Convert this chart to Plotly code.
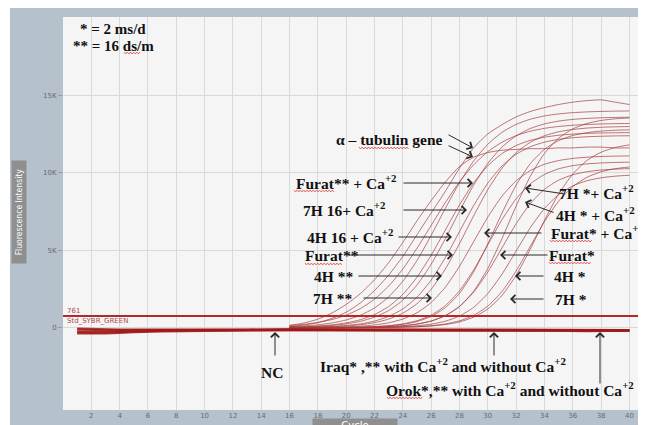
import plotly.graph_objects as go

# ---------------- data ----------------
CYCLES_AMP = list(range(16, 41))          # cycles for amplification curves
BASE_CYCLES = [1, 2, 3, 4, 5, 7, 10, 13, 16, 19, 22, 25, 28, 31, 34, 37, 40]
THRESHOLD = 761

ALPHA_TUBULIN_1 = [80, 170, 330, 600, 1000, 1600, 2400, 3400, 4600, 6000, 7400, 8800, 10300, 11600,
                   12500, 13100, 13600, 13950, 14200, 14400, 14550, 14650, 14700, 14550, 14400]
ALPHA_TUBULIN_2 = [150, 300, 550, 950, 1500, 2200, 3100, 4200, 5500, 6900, 8200, 9400, 10400, 11000,
                   11300, 11450, 11500, 11550, 11550, 11600, 11600, 11650, 11650, 11600, 11600]
FURAT_16_CA = [139, 217, 339, 526, 810, 1233, 1844, 2688, 3791, 5126, 6600, 8074, 9409, 10512,
               11356, 11967, 12390, 12675, 12861, 12983, 13061, 13112, 13144, 13164, 13177]
H7_16_CA = [70, 114, 187, 306, 498, 803, 1276, 1986, 2998, 4340, 5958, 7697, 9354, 10759,
            11837, 12603, 13118, 13451, 13663, 13793, 13874, 13923, 13953, 13972, 13983]
H4_16_CA = [38, 65, 109, 184, 309, 514, 846, 1368, 2154, 3260, 4679, 6300, 7921, 9340,
            10447, 11232, 11754, 12086, 12291, 12416, 12490, 12535, 12562, 12577, 12586]
FURAT_16 = [30, 51, 86, 146, 245, 409, 678, 1109, 1778, 2759, 4095, 5735, 7513, 9198,
            10601, 11653, 12378, 12851, 13147, 13328, 13438, 13504, 13543, 13566, 13580]
H4_16 = [16, 27, 48, 83, 144, 248, 427, 726, 1212, 1971, 3072, 4520, 6200, 7880,
         9328, 10429, 11188, 11674, 11973, 12152, 12256, 12318, 12352, 12373, 12384]
H7_16 = [12, 21, 36, 63, 108, 188, 324, 555, 936, 1550, 2481, 3787, 5426, 7219,
         8907, 10289, 11293, 11962, 12384, 12639, 12790, 12879, 12930, 12960, 12977]
FURAT_2_CA = [5, 10, 17, 31, 55, 99, 178, 316, 557, 963, 1623, 2616, 3964, 5550,
              7136, 8484, 9477, 10137, 10543, 10784, 10922, 11000, 11045, 11069, 11083]
FURAT_2 = [2, 3, 6, 11, 21, 39, 72, 133, 246, 450, 812, 1423, 2383, 3731,
           5350, 6969, 8317, 9277, 9888, 10250, 10454, 10567, 10628, 10661, 10680]
H7_2_CA = [1, 3, 5, 10, 18, 34, 63, 116, 216, 398, 726, 1292, 2218, 3602,
           5408, 7392, 9198, 10582, 11508, 12074, 12402, 12584, 12684, 12737, 12767]
H4_2 = [1, 2, 3, 6, 11, 20, 37, 69, 128, 237, 434, 782, 1370, 2294,
        3592, 5150, 6708, 8006, 8930, 9518, 9866, 10063, 10172, 10231, 10263]
H4_2_CA = [1, 2, 3, 6, 11, 19, 36, 67, 124, 230, 423, 771, 1372, 2357,
           3827, 5746, 7854, 9773, 11243, 12228, 12829, 13177, 13370, 13476, 13533]
H7_2 = [0, 1, 2, 3, 6, 10, 19, 36, 66, 123, 228, 417, 751, 1317,
        2205, 3452, 4950, 6448, 7695, 8583, 9149, 9483, 9672, 9777, 9834]
H7_2_B = [0, 0, 1, 1, 3, 6, 11, 20, 38, 70, 130, 242, 442, 797,
          1397, 2338, 3661, 5250, 6839, 8162, 9104, 9703, 10058, 10259, 10370]
H4_2_B = [0, 1, 1, 2, 3, 5, 10, 17, 32, 59, 109, 203, 373, 680,
          1211, 2080, 3377, 5070, 6930, 8623, 9920, 10789, 11320, 11627, 11797]

AMP_CURVES = [ALPHA_TUBULIN_1, ALPHA_TUBULIN_2, FURAT_16_CA, H7_16_CA, H4_16_CA, FURAT_16,
              H4_16, H7_16, FURAT_2_CA, FURAT_2, H7_2_CA, H4_2, H4_2_CA, H7_2, H7_2_B, H4_2_B]

NC = [-300, -330, -310, -280, -250, -200, -180, -150, -120, -140, -150, -160, -150, -140, -160, -150, -170]
IRAQ_1 = [-120, -150, -160, -150, -140, -130, -120, -110, -100, -120, -130, -120, -110, -130, -120, -140, -150]
IRAQ_2 = [-380, -400, -380, -350, -300, -250, -200, -180, -170, -180, -200, -190, -180, -200, -190, -210, -220]
OROK_1 = [-50, -80, -100, -110, -120, -130, -140, -130, -120, -130, -140, -150, -140, -150, -160, -170, -160]
OROK_2 = [-250, -260, -240, -230, -210, -190, -170, -160, -150, -170, -180, -170, -160, -180, -200, -230, -200]
BASELINES = [NC, IRAQ_1, IRAQ_2, OROK_1, OROK_2]

X_TICKS = list(range(2, 41, 2))
Y_TICKS = [0, 5000, 10000, 15000]
Y_TICK_TEXT = ["0", "5K", "10K", "15K"]

# ---------------- figure ----------------
OFF = 8                      # page body margin in the browser
W, H = 646 - OFF, 425 - OFF
ML, MR, MT, MB = 63 - OFF, 0, 17 - OFF, 15
PW, PH = W - ML - MR, H - MT - MB


def px(x, y):
    """position on the photographed page (pixels) -> paper coords"""
    return (x - OFF - ML) / PW, (H - MB - (y - OFF)) / PH


fig = go.Figure()

CURVE_COLOR = "rgba(165,60,60,0.7)"
for vals in AMP_CURVES:
    fig.add_trace(go.Scatter(x=CYCLES_AMP, y=vals, mode="lines",
                             line=dict(color=CURVE_COLOR, width=1, shape="spline", smoothing=0.6),
                             hoverinfo="skip", showlegend=False))

for vals in BASELINES:
    fig.add_trace(go.Scatter(x=BASE_CYCLES, y=vals, mode="lines",
                             line=dict(color="rgba(160,25,25,0.85)", width=2),
                             hoverinfo="skip", showlegend=False))

shapes = [
    # thin white strip at the left of the grey frame
    dict(type="rect", xref="paper", yref="paper", x0=px(0, 0)[0], x1=px(10, 0)[0],
         y0=px(0, 440)[1], y1=px(0, 0)[1], fillcolor="white", line_width=0, layer="below"),
    # threshold line
    dict(type="line", xref="paper", yref="y", x0=0, x1=1, y0=THRESHOLD, y1=THRESHOLD,
         line=dict(color="#b02a2a", width=2)),
]


def squiggle(x0, x1, y):
    """red wavy spell-check underline (page pixels)"""
    pts = []
    x, up = x0, True
    while x <= x1:
        fx, fy = px(x, y - 1 if up else y + 1)
        pts.append("%s%.5f,%.5f" % ("M" if not pts else "L", fx, fy))
        x += 1.6
        up = not up
    shapes.append(dict(type="path", xref="paper", yref="paper", path=" ".join(pts),
                       line=dict(color="#e04848", width=0.8)))


for sx0, sx1, sy in ((124, 140, 53), (359, 409, 148), (294, 335, 191), (305, 343, 264),
                     (550, 593, 241), (549, 592, 263), (387, 423, 398)):
    squiggle(sx0, sx1, sy)

LABEL_FONT = dict(family="Liberation Serif, Times New Roman, serif", size=15.5, color="#111")
annotations = []


def label(text, x, y, size=15.5):
    fx, fy = px(x, y)
    f = dict(LABEL_FONT)
    f["size"] = size
    annotations.append(dict(xref="paper", yref="paper", x=fx, y=fy, text="<b>" + text + "</b>",
                            showarrow=False, font=f, xanchor="center", yanchor="middle"))


def arrow(x0, y0, x1, y1):
    """arrow from tail (x0,y0) to tip (x1,y1), page pixels"""
    fx, fy = px(x1, y1)
    annotations.append(dict(xref="paper", yref="paper", x=fx, y=fy, text="",
                            ax=x0 - x1, ay=y0 - y1, axref="pixel", ayref="pixel",
                            showarrow=True, arrowhead=4, arrowsize=1.6, arrowwidth=1,
                            arrowcolor="#2a2a2a"))


label("* = 2 ms/d", 113, 29, 15)
label("** = 16 ds/m", 113, 46, 15)

label("α – tubulin gene", 389, 139)
arrow(447, 134, 473, 148)
arrow(447, 145, 473, 157)
label("Furat** + Ca<sup>+2</sup>", 346, 182)
arrow(402, 183, 473, 183)
label("7H 16+ Ca<sup>+2</sup>", 344, 209)
arrow(402, 210, 467, 210)
label("4H 16 + Ca<sup>+2</sup>", 350, 236)
arrow(397, 237, 452, 237)
label("Furat**", 332, 255)
arrow(347, 255, 453, 255)
label("4H **", 333, 276)
arrow(357, 276, 442, 276)
label("7H **", 332, 298)
arrow(362, 298, 432, 298)

label("7H *+ Ca<sup>+2</sup>", 596, 192)
arrow(565, 194, 525, 188)
label("4H * + Ca<sup>+2</sup>", 595, 214)
arrow(555, 213, 525, 202)
label("Furat* + Ca<sup>+2</sup>", 597, 232)
arrow(543, 233, 484, 233)
label("Furat*", 572, 255)
arrow(549, 255, 500, 255)
label("4H *", 570, 276)
arrow(545, 276, 515, 276)
label("7H *", 571, 299)
arrow(545, 299, 510, 299)

label("NC", 272, 372)
arrow(275, 357, 275, 332)
label("Iraq* ,** with Ca<sup>+2</sup> and without Ca<sup>+2</sup>", 443, 365)
arrow(494, 357, 494, 332)
label("Orok*,** with Ca<sup>+2</sup> and without Ca<sup>+2</sup>", 510, 389)
arrow(600, 385, 600, 332)

# threshold labels
for txt, yy in (("761", 311), ("Std_SYBR_GREEN", 321)):
    fx, fy = px(65, yy)
    annotations.append(dict(xref="paper", yref="paper", x=fx, y=fy, text=txt, showarrow=False,
                            xanchor="left", yanchor="middle",
                            font=dict(family="DejaVu Sans", size=7, color="#b04a4a")))

# axis title boxes
fx, fy = px(355, 417.5)
annotations.append(dict(xref="paper", yref="paper", x=fx, y=fy, text="Cycle", showarrow=False,
                        xanchor="center", yanchor="top", width=84, height=12, borderpad=0,
                        bgcolor="#8f8f8f", font=dict(family="DejaVu Sans", size=10, color="white")))
fx, fy = px(19, 212)
annotations.append(dict(xref="paper", yref="paper", x=fx, y=fy, text="Fluorescence Intensity",
                        showarrow=False, textangle=-90, xanchor="center", yanchor="middle",
                        width=100, height=12, bgcolor="#8f8f8f",
                        font=dict(family="DejaVu Sans Condensed, DejaVu Sans", size=8.5, color="white")))

fig.update_layout(
    width=W, height=H,
    margin=dict(l=ML, r=MR, t=MT, b=MB, pad=0),
    paper_bgcolor="#b5c1cd", plot_bgcolor="#f5f5f5",
    showlegend=False, shapes=shapes, annotations=annotations,
    xaxis=dict(range=[0, 41.17], tickvals=X_TICKS, showgrid=True, gridcolor="#d9d9d9",
               gridwidth=1, zeroline=False, showline=False, ticks="",
               tickfont=dict(family="DejaVu Sans", size=7, color="#6a6a6a"), fixedrange=True),
    yaxis=dict(range=[-5310, 20045], tickvals=Y_TICKS, ticktext=Y_TICK_TEXT, showgrid=True,
               gridcolor="#d9d9d9", gridwidth=1, zeroline=False, showline=False,
               ticks="outside", ticklen=4, tickcolor="#9a9a9a",
               tickfont=dict(family="DejaVu Sans", size=7, color="#6a6a6a"), fixedrange=True),
)

fig.write_html(
    "out.html",
    post_script="document.documentElement.style.overflow='hidden';"
                "document.body.style.overflow='hidden';",
)
